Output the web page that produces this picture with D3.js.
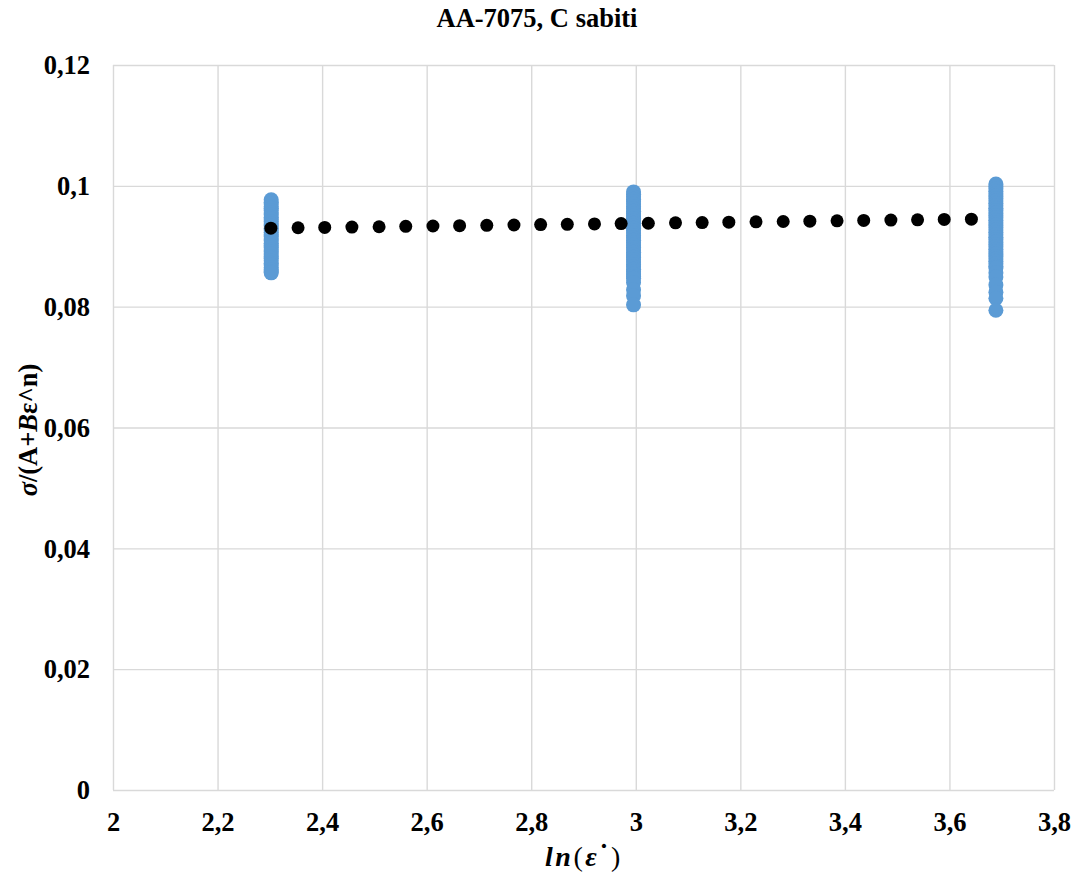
<!DOCTYPE html>
<html>
<head>
<meta charset="utf-8">
<script src="https://cdn.jsdelivr.net/npm/d3@7"></script>
<style>
  html, body { margin: 0; padding: 0; background: #ffffff; }
  svg { display: block; }
  text { font-family: "Liberation Serif", "Times New Roman", Tinos, serif; }
</style>
</head>
<body>
<svg id="chart" width="1080" height="879"></svg>
<script>
// ---- data ----
const chartTitle = "AA-7075, C sabiti";
const xTickValues = [2, 2.2, 2.4, 2.6, 2.8, 3, 3.2, 3.4, 3.6, 3.8];
const xTickLabels = ["2", "2,2", "2,4", "2,6", "2,8", "3", "3,2", "3,4", "3,6", "3,8"];
const yTickValues = [0, 0.02, 0.04, 0.06, 0.08, 0.1, 0.12];
const yTickLabels = ["0", "0,02", "0,04", "0,06", "0,08", "0,1", "0,12"];

// measured series: three strain-rate levels, ln(10), ln(20), ln(40)
const measuredX = [2.302585, 2.995732, 3.688879];
const measuredY1 = [0.0977, 0.0973, 0.0970, 0.0966, 0.0963, 0.0959, 0.0955, 0.0952, 0.0948, 0.0945,
  0.0941, 0.0937, 0.0934, 0.0930, 0.0927, 0.0923, 0.0919, 0.0916, 0.0912, 0.0909, 0.0905, 0.0901,
  0.0898, 0.0894, 0.0891, 0.0887, 0.0883, 0.0880, 0.0876, 0.0872, 0.0869, 0.0865, 0.0861, 0.0858, 0.0856];
const measuredY2 = [0.0990, 0.0986, 0.0982, 0.0978, 0.0974, 0.0970, 0.0966, 0.0962, 0.0958, 0.0954,
  0.0950, 0.0946, 0.0942, 0.0938, 0.0934, 0.0930, 0.0926, 0.0922, 0.0918, 0.0914, 0.0910, 0.0906,
  0.0902, 0.0898, 0.0894, 0.0890, 0.0886, 0.0882, 0.0878, 0.0874, 0.0870, 0.0866, 0.0862, 0.0858,
  0.0854, 0.0850, 0.0847, 0.0840, 0.0828, 0.0818, 0.0803];
const measuredY3 = [0.1003, 0.0999, 0.0995, 0.0991, 0.0987, 0.0983, 0.0979, 0.0975, 0.0971, 0.0967,
  0.0963, 0.0959, 0.0955, 0.0951, 0.0947, 0.0943, 0.0939, 0.0935, 0.0931, 0.0927, 0.0923, 0.0919,
  0.0915, 0.0911, 0.0907, 0.0903, 0.0899, 0.0895, 0.0891, 0.0887, 0.0883, 0.0879, 0.0875, 0.0871,
  0.0867, 0.0864, 0.0856, 0.0849, 0.0836, 0.0824, 0.0814, 0.0794];

// fitted series (black dots)
const fitX = [2.302, 2.354, 2.405, 2.457, 2.509, 2.560, 2.612, 2.663, 2.715, 2.767, 2.818, 2.869,
  2.921, 2.972, 3.024, 3.076, 3.127, 3.178, 3.230, 3.282, 3.333, 3.385, 3.436, 3.488, 3.539, 3.590, 3.642];
const fitY = [0.09300, 0.09306, 0.09312, 0.09317, 0.09323, 0.09329, 0.09335, 0.09340, 0.09346, 0.09352,
  0.09358, 0.09363, 0.09369, 0.09375, 0.09381, 0.09387, 0.09392, 0.09398, 0.09404, 0.09410,
  0.09415, 0.09421, 0.09427, 0.09433, 0.09438, 0.09444, 0.09448];

// ---- build ----
const svg = d3.select("#chart");
const margin = {left: 113, top: 65, right: 26, bottom: 89};
const W = 1080, H = 879;
const x = d3.scaleLinear().domain([2, 3.8]).range([margin.left, W - margin.right]);
const y = d3.scaleLinear().domain([0, 0.12]).range([H - margin.bottom, margin.top]);
const gridColor = "#d9d9d9";
const serif = '"Liberation Serif", "Times New Roman", Tinos, serif';

// vertical gridlines
svg.append("g")
  .attr("transform", `translate(0,${margin.top})`)
  .call(d3.axisBottom(x).tickValues(xTickValues).tickSize(H - margin.bottom - margin.top).tickFormat(""))
  .call(g => g.select(".domain").remove())
  .call(g => g.selectAll("line").attr("stroke", gridColor).attr("stroke-width", 1.4));

// horizontal gridlines
svg.append("g")
  .attr("transform", `translate(${margin.left},0)`)
  .call(d3.axisRight(y).tickValues(yTickValues).tickSize(W - margin.right - margin.left).tickFormat(""))
  .call(g => g.select(".domain").remove())
  .call(g => g.selectAll("line").attr("stroke", gridColor).attr("stroke-width", 1.4));

// x tick labels
svg.append("g")
  .attr("transform", `translate(0,${H - margin.bottom})`)
  .call(d3.axisBottom(x).tickValues(xTickValues).tickSize(0).tickPadding(0)
    .tickFormat((d, i) => xTickLabels[i]))
  .call(g => g.select(".domain").remove())
  .call(g => g.attr("font-family", null))
  .call(g => g.selectAll("text")
    .attr("y", 41).attr("dy", null)
    .style("font-family", serif)
    .style("font-size", "26.5px").style("font-weight", "bold").attr("fill", "#000"));

// y tick labels
svg.append("g")
  .attr("transform", `translate(${margin.left},0)`)
  .call(d3.axisLeft(y).tickValues(yTickValues).tickSize(0).tickPadding(23)
    .tickFormat((d, i) => yTickLabels[i]))
  .call(g => g.select(".domain").remove())
  .call(g => g.attr("font-family", null))
  .call(g => g.selectAll("text")
    .attr("dy", "0.33em")
    .style("font-family", serif)
    .style("font-size", "26.5px").style("font-weight", "bold").attr("fill", "#000"));

// measured points
const measuredSets = [measuredY1, measuredY2, measuredY3];
const measuredPts = [];
measuredSets.forEach((vals, k) => vals.forEach(v => measuredPts.push({x: measuredX[k], y: v})));
svg.append("g").selectAll("circle").data(measuredPts).join("circle")
  .attr("cx", d => x(d.x)).attr("cy", d => y(d.y)).attr("r", 7.5)
  .attr("fill", "#5b9bd5");

// fitted points
svg.append("g").selectAll("circle").data(fitX.map((v, i) => ({x: v, y: fitY[i]}))).join("circle")
  .attr("cx", d => x(d.x)).attr("cy", d => y(d.y)).attr("r", 6.5)
  .attr("fill", "#000");

// title
svg.append("text")
  .attr("x", 537).attr("y", 27)
  .attr("text-anchor", "middle")
  .style("font-family", serif)
  .style("font-size", "26.5px").style("font-weight", "bold")
  .text(chartTitle);

// y axis title
const yt = svg.append("text")
  .attr("transform", "translate(37,430) rotate(-90)")
  .attr("text-anchor", "middle")
  .style("font-family", serif)
  .style("font-size", "26.5px").style("font-weight", "bold");
yt.append("tspan").style("font-style", "italic").text("σ");
yt.append("tspan").text("/(A+");
yt.append("tspan").style("font-style", "italic").text("B");
yt.append("tspan").text("ε^n)");

// x axis title
const xt = svg.append("text")
  .attr("x", 584).attr("y", 866)
  .attr("text-anchor", "middle")
  .style("font-family", serif)
  .style("font-size", "28px").style("letter-spacing", "2.5px");
xt.append("tspan").style("font-style", "italic").style("font-weight", "bold").text("ln");
xt.append("tspan").text("(");
xt.append("tspan").style("font-style", "italic").style("font-weight", "bold").text("ε");
xt.append("tspan").attr("dy", "-3").style("font-weight", "bold").text("˙");
xt.append("tspan").attr("dy", "3").text(")");
</script>
</body>
</html>
